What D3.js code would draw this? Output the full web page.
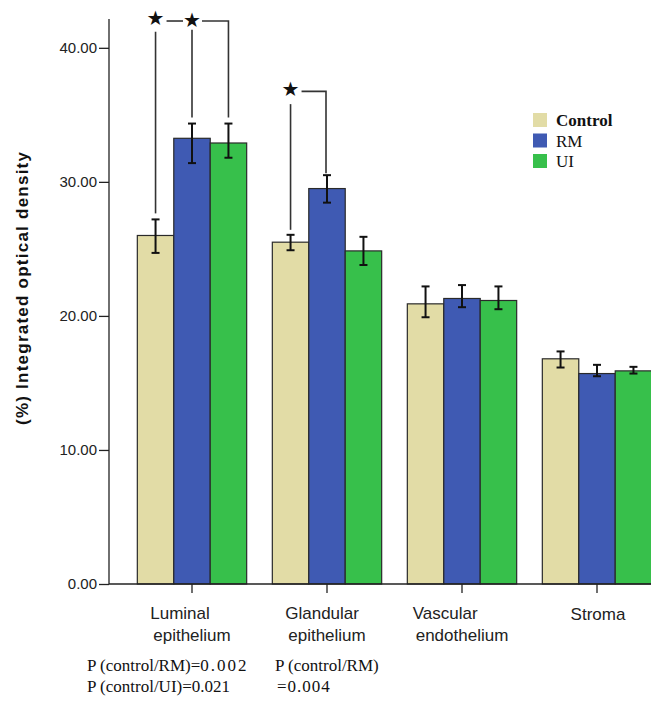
<!DOCTYPE html>
<html><head><meta charset="utf-8">
<script src="https://cdn.jsdelivr.net/npm/d3@7"></script>
<style>body{margin:0;background:#fff;} svg{display:block;}</style>
</head><body>
<svg id="chart" width="651" height="704"></svg>
<script>
const categories = ["Luminal epithelium", "Glandular epithelium", "Vascular endothelium", "Stroma"];
const categoryLines = [["Luminal", "epithelium"], ["Glandular", "epithelium"], ["Vascular", "endothelium"], ["Stroma"]];
const series = ["Control", "RM", "UI"];
const controlMean = [26.0, 25.5, 20.9, 16.8];
const rmMean = [33.25, 29.5, 21.3, 15.7];
const uiMean = [32.9, 24.85, 21.15, 15.9];
const controlHigh = [27.2, 26.05, 22.2, 17.35];
const controlLow = [24.7, 24.9, 19.9, 16.15];
const rmHigh = [34.35, 30.5, 22.3, 16.35];
const rmLow = [31.4, 28.45, 20.65, 15.5];
const uiHigh = [34.35, 25.9, 22.2, 16.2];
const uiLow = [31.8, 23.8, 20.5, 15.7];
const yTicks = [0, 10, 20, 30, 40];
const pLines = [
  ["P (control/RM)=", "0.002", "P (control/RM)"],
  ["P (control/UI)=0.021", "", "=0.004"]
];

const colors = {Control: "#e2dca6", RM: "#3f5ab3", UI: "#37c04b"};
const means = {Control: controlMean, RM: rmMean, UI: uiMean};
const highs = {Control: controlHigh, RM: rmHigh, UI: uiHigh};
const lows = {Control: controlLow, RM: rmLow, UI: uiLow};

const svg = d3.select("#chart");
const y = d3.scaleLinear().domain([0, 42.15]).range([584, 19]);
const x0 = d3.scaleBand().domain(categories).range([124.5, 664.5]).paddingInner(0.19).paddingOuter(0.095);
const x1 = d3.scaleBand().domain(series).range([0, x0.bandwidth()]);

// bars
const g = svg.append("g");
categories.forEach((c, i) => {
  series.forEach(s => {
    const bx = x0(c) + x1(s);
    g.append("rect").attr("x", bx).attr("y", y(means[s][i]))
      .attr("width", x1.bandwidth()).attr("height", y(0) - y(means[s][i]))
      .attr("fill", colors[s]).attr("stroke", "#2a2a2a").attr("stroke-width", 1.2);
  });
});
// error bars
categories.forEach((c, i) => {
  series.forEach(s => {
    const cx = x0(c) + x1(s) + x1.bandwidth() / 2;
    const e = g.append("g").attr("stroke", "#111").attr("stroke-width", 2);
    e.append("line").attr("x1", cx).attr("x2", cx).attr("y1", y(highs[s][i])).attr("y2", y(lows[s][i]));
    e.append("line").attr("x1", cx - 4).attr("x2", cx + 4).attr("y1", y(highs[s][i])).attr("y2", y(highs[s][i]));
    e.append("line").attr("x1", cx - 4).attr("x2", cx + 4).attr("y1", y(lows[s][i])).attr("y2", y(lows[s][i]));
  });
});

// axes
const yAxis = d3.axisLeft(y).tickValues(yTicks).tickFormat(d3.format(".2f")).tickSize(10).tickPadding(2);
const ya = svg.append("g").attr("transform", "translate(109,0)").call(yAxis);
ya.select(".domain").attr("d", `M0,${y(42.15)}V${y(0)}`).attr("stroke", "#222").attr("stroke-width", 1.3);
ya.selectAll(".tick line").attr("stroke", "#222").attr("stroke-width", 1.3);
ya.selectAll(".tick text").attr("font-family", "Liberation Sans, Arial, sans-serif").attr("font-size", 15).attr("fill", "#222");

const xa = svg.append("g").attr("transform", `translate(0,${y(0)})`);
xa.append("line").attr("x1", 109).attr("x2", 651).attr("y1", 0).attr("y2", 0).attr("stroke", "#222").attr("stroke-width", 1.3);
categories.forEach((c, i) => {
  const cx = x0(c) + x0.bandwidth() / 2;
  xa.append("line").attr("x1", cx).attr("x2", cx).attr("y1", 0).attr("y2", 9).attr("stroke", "#222").attr("stroke-width", 1.3);
  const lines = categoryLines[i];
  const t = xa.append("text").attr("font-family", "Liberation Sans, Arial, sans-serif").attr("font-size", 17).attr("fill", "#222");
  if (lines.length === 1) {
    t.attr("x", cx + 1).attr("y", 36).attr("text-anchor", "middle").text(lines[0]);
  } else {
    const t2 = xa.append("text").attr("font-family", "Liberation Sans, Arial, sans-serif").attr("font-size", 17).attr("fill", "#222")
      .attr("x", cx).attr("y", 57).attr("text-anchor", "middle").text(lines[1]);
    const w = t2.node().getComputedTextLength();
    t.attr("x", cx - w / 2 - 3).attr("y", 35).attr("text-anchor", "start").text(lines[0]);
  }
});

// y title
svg.append("text").attr("transform", `translate(28,${288.5}) rotate(-90)`)
  .attr("text-anchor", "middle").attr("font-family", "Liberation Sans, Arial, sans-serif")
  .attr("font-weight", "bold").attr("font-size", 17).attr("fill", "#111")
  .attr("textLength", 273).attr("lengthAdjust", "spacing")
  .text("(%) Integrated optical density");

// significance brackets
const cxOf = (ci, s) => x0(categories[ci]) + x1(s) + x1.bandwidth() / 2;
const sig = svg.append("g").attr("stroke", "#333").attr("stroke-width", 1.6).attr("fill", "none");
function star(xp, yp) {
  svg.append("text").attr("x", xp).attr("y", yp + 7).attr("text-anchor", "middle")
    .attr("font-family", "DejaVu Sans, sans-serif").attr("font-size", 20).attr("fill", "#111").text("★");
}
// Luminal
{
  const cC = cxOf(0, "Control"), cR = cxOf(0, "RM"), cU = cxOf(0, "UI");
  const yb = y(42.0);
  star(cC, y(42.2)); star(cR, y(42.05));
  sig.append("line").attr("x1", cC).attr("x2", cC).attr("y1", y(41.2)).attr("y2", y(controlHigh[0]) - 6);
  sig.append("line").attr("x1", cC + 11).attr("x2", cR - 9).attr("y1", yb).attr("y2", yb);
  sig.append("line").attr("x1", cR).attr("x2", cR).attr("y1", y(41.35)).attr("y2", y(rmHigh[0]) - 6);
  sig.append("path").attr("d", `M${cR + 10},${yb}H${cU}V${y(uiHigh[0]) - 6}`);
}
// Glandular
{
  const cC = cxOf(1, "Control"), cR = cxOf(1, "RM");
  const yb = y(36.75);
  star(cC, y(36.9));
  sig.append("line").attr("x1", cC).attr("x2", cC).attr("y1", y(35.8)).attr("y2", y(controlHigh[1]) - 5);
  sig.append("path").attr("d", `M${cC + 11},${yb}H${cR - 1}V${y(rmHigh[1]) - 2}`);
}

// legend
const lg = svg.append("g");
series.forEach((s, i) => {
  lg.append("rect").attr("x", 533).attr("y", 113 + i * 20.5).attr("width", 14).attr("height", 14).attr("fill", colors[s]);
  lg.append("text").attr("x", 556).attr("y", 126 + i * 20.5).attr("font-family", "Liberation Serif, Times New Roman, serif")
    .attr("font-size", 17).attr("font-weight", i === 0 ? "bold" : "normal").attr("fill", "#111").text(s);
});

// p-values
const pf = "Liberation Serif, Times New Roman, serif";
const p1 = svg.append("text").attr("x", 87).attr("y", 671).attr("font-family", pf).attr("font-size", 17).attr("fill", "#111");
p1.append("tspan").text(pLines[0][0]);
p1.append("tspan").attr("letter-spacing", 2).text(pLines[0][1]);
svg.append("text").attr("x", 275).attr("y", 671).attr("font-family", pf).attr("font-size", 17).attr("fill", "#111").text(pLines[0][2]);
svg.append("text").attr("x", 87).attr("y", 692).attr("font-family", pf).attr("font-size", 17).attr("fill", "#111").text(pLines[1][0]);
svg.append("text").attr("x", 277).attr("y", 692).attr("font-family", pf).attr("font-size", 17).attr("fill", "#111")
  .attr("letter-spacing", 1).text(pLines[1][2]);
</script>
</body></html>
